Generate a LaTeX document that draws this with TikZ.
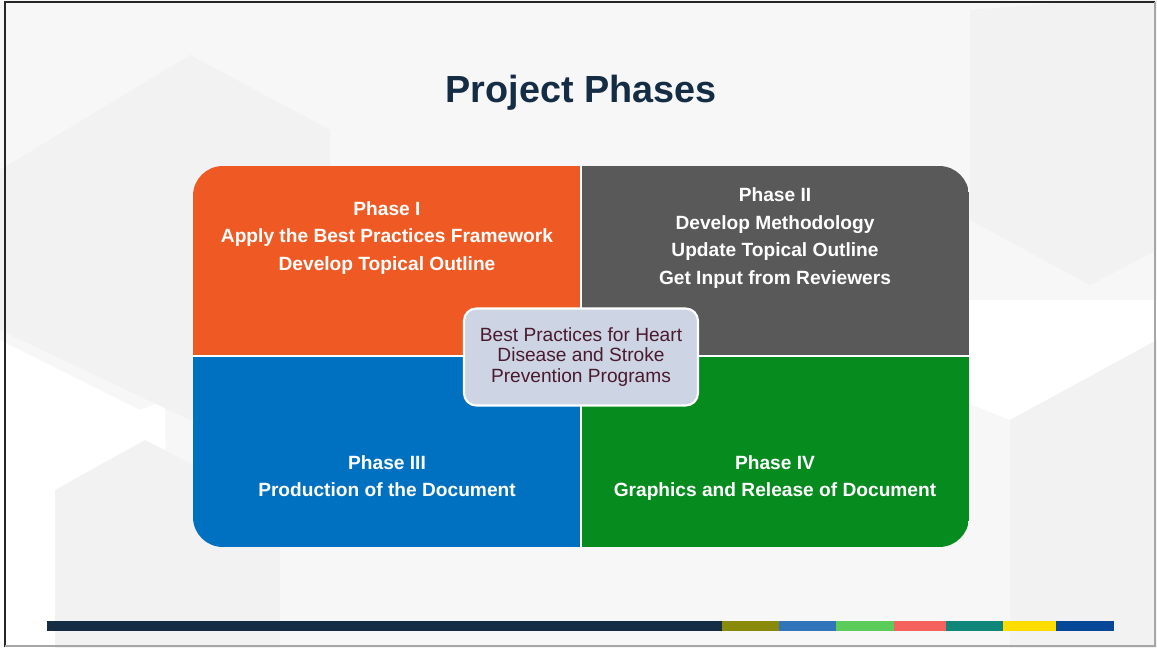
\documentclass[tikz,border=0pt]{standalone}
\usepackage{fontspec}
\setmainfont{Liberation Sans}
\usetikzlibrary{positioning}

\definecolor{titleblue}{HTML}{152C45}
\definecolor{phaseorange}{HTML}{EF5A24}
\definecolor{phasegray}{HTML}{595959}
\definecolor{phaseblue}{HTML}{0070C0}
\definecolor{phasegreen}{HTML}{068B1E}
\definecolor{hubfill}{HTML}{CDD5E4}
\definecolor{hubtext}{HTML}{4A1A2E}
\definecolor{backgray}{HTML}{F7F7F7}
\definecolor{hexgray}{HTML}{F2F2F2}
\definecolor{barolive}{HTML}{8A8A0A}
\definecolor{barblue}{HTML}{3174BA}
\definecolor{bargreen}{HTML}{5BCB5A}
\definecolor{barred}{HTML}{F5625E}
\definecolor{barteal}{HTML}{10857A}
\definecolor{baryellow}{HTML}{FFDD00}
\definecolor{barnavy}{HTML}{074797}

\begin{document}
\begin{tikzpicture}[
  x=0.02cm, y=-0.02cm,
  phase/.style={text=white, align=center, font=\fontsize{10.9}{15.6}\selectfont\bfseries},
  hub/.style={draw=white, line width=1.2pt, fill=hubfill, rounded corners=7pt,
              minimum width=234*0.02cm, minimum height=97*0.02cm, align=center,
              text=hubtext, font=\fontsize{10.9}{11.6}\selectfont},
  hex/.style={fill=hexgray},
  blank/.style={fill=white}
]
\useasboundingbox (0,0) rectangle (1157,648);
\fill[backgray] (0,0) rectangle (1157,648);

% faint hexagon background
\fill[blank] (0,340) -- (140,410) -- (165,400) -- (165,648) -- (0,648) -- cycle;
\fill[blank] (960,300) -- (1157,300) -- (1157,340) -- (1010,420) -- (960,400) -- cycle;
\fill[blank] (120,150) -- (190,110) -- (330,180) -- (330,300) -- (120,300) -- cycle;
\fill[hex] (0,170) -- (190,55) -- (330,130) -- (330,340) -- (190,420) -- (0,330) -- cycle;
\fill[hex] (55,490) -- (145,440) -- (280,510) -- (280,648) -- (55,648) -- cycle;
\fill[hex] (1010,420) -- (1157,340) -- (1157,648) -- (1010,648) -- cycle;
\fill[hex] (970,10) -- (1100,0) -- (1157,0) -- (1157,250) -- (1090,285) -- (970,220) -- cycle;

% title
\node[font=\fontsize{21.5}{24}\selectfont\bfseries, text=titleblue] (title) at (581,93) {Project Phases};

% four quadrants
\begin{scope}
  \clip[rounded corners=17pt] (193,166) rectangle (969,547);
  \fill[phaseorange] (193,166) rectangle (581,356);
  \fill[phasegray] (581,166) rectangle (969,356);
  \fill[phaseblue] (193,356) rectangle (581,547);
  \fill[phasegreen] (581,356) rectangle (969,547);
  \draw[white, line width=1.3pt] (581,166) -- (581,547);
  \draw[white, line width=1.3pt] (193,356) -- (969,356);
\end{scope}

\node[phase] (p1) at (387,238) {Phase I\\Apply the Best Practices Framework\\Develop Topical Outline};
\node[phase] (p2) at (775,238) {Phase II\\Develop Methodology\\Update Topical Outline\\Get Input from Reviewers};
\node[phase] (p3) at (387,476) {Phase III\\Production of the Document};
\node[phase] (p4) at (775,478) {Phase IV\\Graphics and Release of Document};

\node[hub] (hub) at (581,357) {Best Practices for Heart\\Disease and Stroke\\Prevention Programs};

% footer bar
\fill[titleblue] (47,621) rectangle (722,631);
\fill[barolive] (722,621) rectangle (779,631);
\fill[barblue] (779,621) rectangle (836,631);
\fill[bargreen] (836,621) rectangle (894,631);
\fill[barred] (894,621) rectangle (946,631);
\fill[barteal] (946,621) rectangle (1003,631);
\fill[baryellow] (1003,621) rectangle (1056,631);
\fill[barnavy] (1056,621) rectangle (1114,631);

% frame
\draw[black!85, line width=1.5pt] (5,647) -- (5,2) -- (1155,2);
\draw[black!35, line width=1.5pt] (1155,2) -- (1155,646) -- (5,646);
\end{tikzpicture}
\end{document}
